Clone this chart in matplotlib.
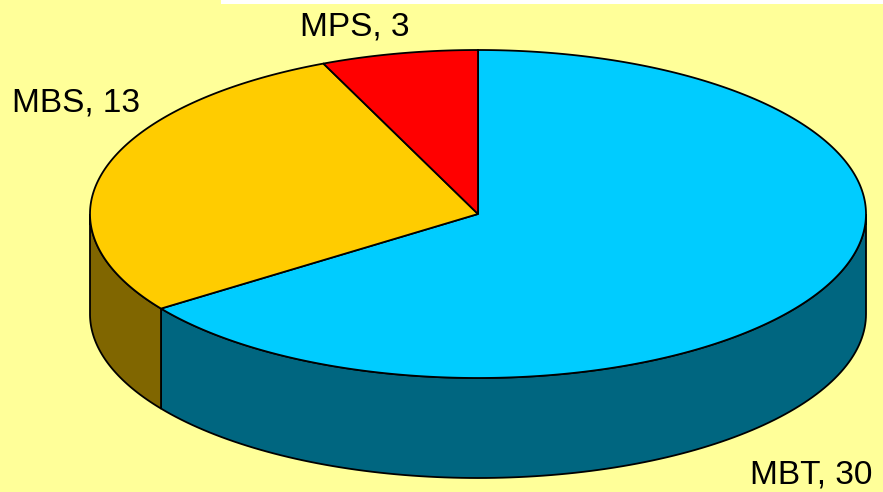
import numpy as np
import matplotlib.pyplot as plt
from matplotlib.patches import Polygon, Rectangle

# data
labels = ['MBT', 'MBS', 'MPS']
values = [30, 13, 3]
top_colors = ['#00CCFF', '#FFCC00', '#FF0000']
side_colors = ['#006680', '#806600', '#800000']

# ellipse geometry in pixels
cx, cy = 478, 214
rx, ry = 388, 164
depth = 100

fig = plt.figure(figsize=(8.83, 4.92), dpi=100)
fig.patch.set_facecolor('#FFFF99')
ax = fig.add_axes([0, 0, 1, 1])
ax.set_xlim(0, 883)
ax.set_ylim(492, 0)
ax.axis('off')

# thin white strip at the top
ax.add_patch(Rectangle((221, 0), 662, 4, facecolor='white', edgecolor='none'))


def pt(theta, dy=0):
    t = np.radians(theta)
    return cx + rx * np.cos(t), cy - ry * np.sin(t) + dy


# slices go clockwise from 12 o'clock
total = sum(values)
spans = []
start = 90.0
for v in values:
    end = start - v / total * 360
    spans.append((end, start))
    start = end

# side walls (visible where the angle is between 180 and 360)
for (a1, a2), col in zip(spans, side_colors):
    for shift in (0, 360, -360):
        lo = max(a1 + shift, 180)
        hi = min(a2 + shift, 360)
        if hi > lo:
            th = np.linspace(lo, hi, 120)
            top = [pt(t) for t in th]
            bot = [pt(t, depth) for t in th[::-1]]
            ax.add_patch(Polygon(top + bot, closed=True, facecolor=col,
                                 edgecolor='black', linewidth=1.3))

# top faces
for (a1, a2), col in zip(spans, top_colors):
    th = np.linspace(a1, a2, 300)
    pts = [(cx, cy)] + [pt(t) for t in th]
    ax.add_patch(Polygon(pts, closed=True, facecolor=col,
                         edgecolor='black', linewidth=1.3, joinstyle='miter'))

# labels
label_pos = {'MBT': (750, 483), 'MBS': (12, 111), 'MPS': (300, 36)}
for lab, v in zip(labels, values):
    x, y = label_pos[lab]
    ax.text(x, y, f'{lab}, {v}', fontsize=24, family='Liberation Sans',
            ha='left', va='baseline', color='black')

fig.savefig('out.png', dpi=100, facecolor=fig.get_facecolor())
